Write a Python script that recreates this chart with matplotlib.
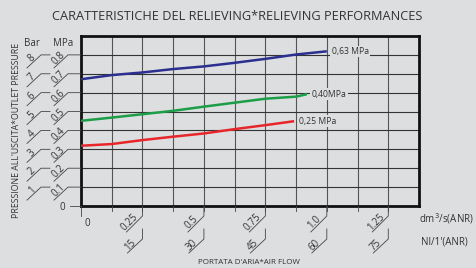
import matplotlib
matplotlib.use("Agg")
import matplotlib.pyplot as plt
import numpy as np

# flow, dm3/s(ANR)
flow_063 = [0, 0.125, 0.25, 0.375, 0.5, 0.625, 0.75, 0.875, 1.0]
p_063 = [0.671, 0.693, 0.707, 0.725, 0.739, 0.758, 0.779, 0.802, 0.819]
flow_040 = [0, 0.125, 0.25, 0.375, 0.5, 0.625, 0.75, 0.875, 0.919]
p_040 = [0.451, 0.468, 0.486, 0.504, 0.526, 0.547, 0.568, 0.579, 0.592]
flow_025 = [0, 0.125, 0.25, 0.375, 0.5, 0.625, 0.75, 0.867]
p_025 = [0.319, 0.328, 0.349, 0.367, 0.384, 0.407, 0.428, 0.449]

curve_labels = ["0,63 MPa", "0,40MPa", "0,25 MPa"]
colors = ["#2b2f8f", "#1c9e48", "#e8262a"]

mpa_ticks = [0.1, 0.2, 0.3, 0.4, 0.5, 0.6, 0.7, 0.8]
mpa_labels = ["0.1", "0.2", "0.3", "0.4", "0.5", "0.6", "0.7", "0.8"]
bar_labels = ["1", "2", "3", "4", "5", "6", "7", "8"]
dm3_ticks = [0.25, 0.5, 0.75, 1.0, 1.25]
dm3_labels = ["0.25", "0.5", "0.75", "1.0", "1.25"]
nl_labels = ["15", "30", "45", "60", "75"]

W, H = 477, 268
bg = "#dddee0"
txt = "#333333"
plt.rcParams["font.family"] = ["Open Sans", "DejaVu Sans"]

fig = plt.figure(figsize=(W / 100, H / 100), dpi=100, facecolor=bg)
ax = fig.add_axes([81 / W, 1 - 206 / H, 338 / W, 170 / H], facecolor=bg)
ax.set_xlim(0, 1.375)
ax.set_ylim(0, 0.9)

for v in np.arange(0.125, 1.375, 0.125):
    ax.axvline(v, color="#555555", lw=0.8, zorder=1)
for v in np.arange(0.1, 0.9, 0.1):
    ax.axhline(v, color="#333333", lw=0.8, zorder=1)

series = [(flow_063, p_063), (flow_040, p_040), (flow_025, p_025)]
for (fx, py), c, lab in zip(series, colors, curve_labels):
    ax.plot(fx, py, color=c, lw=1.8, zorder=3, solid_capstyle="butt")
    ax.annotate(lab, (fx[-1], py[-1]), xytext=(3.5, 0), textcoords="offset points",
                fontsize=6.2, color=txt, va="center", ha="left", zorder=4,
                bbox=dict(boxstyle="square,pad=0.15", fc=bg, ec="none"))

ax.set_xticks([])
ax.set_yticks([])
for s in ax.spines.values():
    s.set_linewidth(2)
    s.set_color("#111111")


def px(xv, yv):
    dx, dy = ax.transData.transform((xv, yv))
    return dx, H - dy


def f(x, y):
    return x / W, 1 - y / H


def line(pts, lw=0.6, color="#444444"):
    xs = [p[0] / W for p in pts]
    ys = [1 - p[1] / H for p in pts]
    fig.add_artist(plt.Line2D(xs, ys, transform=fig.transFigure, lw=lw, color=color))


def label(x, y, s, size=7, rot=0, ha="center", va="center"):
    fig.text(*f(x, y), s, fontsize=size, rotation=rot, ha=ha, va=va, color=txt,
             rotation_mode="anchor")


# y axis labels (Bar / MPa)
for v, ml, bl in zip(mpa_ticks, mpa_labels, bar_labels):
    _, y = px(0, v)
    line([(81, y), (68, y), (54, y + 13)])
    label(59, y + 3.5, ml, 7, 45)
    line([(50, y), (41, y), (27, y + 13)])
    label(32, y + 3.5, bl, 7, 45)
_, y0 = px(0, 0)
line([(81, y0), (70, y0)])
label(62, y0 + 1, "0", 7)
label(32, 43, "Bar", 7)
label(63, 43, "MPa", 7)

# x axis labels
for v in np.arange(0.125, 1.375, 0.125):
    x, _ = px(v, 0)
    line([(x, 206), (x, 211)])
x0, _ = px(0, 0)
line([(x0, 206), (x0, 216)])
label(87, 224, "0", 7)
for v, dl, nl in zip(dm3_ticks, dm3_labels, nl_labels):
    x, _ = px(v, 0)
    line([(x, 206), (x, 216), (x - 16, 232)])
    label(x - 12.5, 222, dl, 7, 45)
    line([(x, 229), (x, 239), (x - 15, 253)])
    label(x - 12.5, 245, nl, 7, 45)

fig.text(*f(419, 219), "dm$^3$/s(ANR)", fontsize=7, ha="left", va="center", color=txt)
fig.text(*f(421, 242), "Nl/1'(ANR)", fontsize=7, ha="left", va="center", color=txt)
fig.text(*f(249, 263), "PORTATA D'ARIA*AIR FLOW", fontsize=5.8, ha="center", va="center", color=txt)
fig.text(*f(17, 130), "PRESSIONE ALL'USCITA*OUTLET PRESSURE", fontsize=6.3, rotation=90,
         ha="center", va="center", color=txt)
fig.text(*f(237, 17), "CARATTERISTICHE DEL RELIEVING*RELIEVING PERFORMANCES", fontsize=9.2,
         ha="center", va="center", color=txt)

fig.savefig("out.png", dpi=100, facecolor=bg)
